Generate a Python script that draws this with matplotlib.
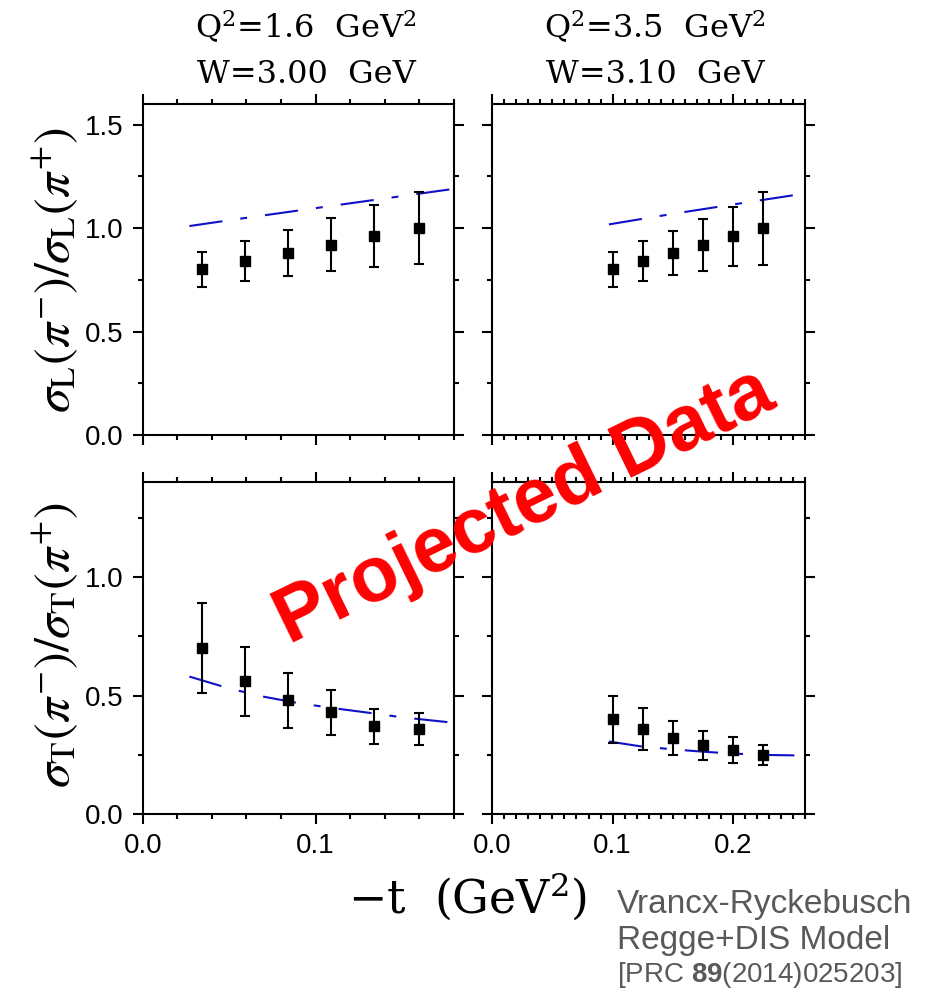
import matplotlib
matplotlib.use("Agg")
import matplotlib.pyplot as plt
from matplotlib.ticker import MultipleLocator

plt.rcParams['font.family'] = ['Liberation Sans', 'DejaVu Sans']
plt.rcParams['lines.scale_dashes'] = False
plt.rcParams['mathtext.fontset'] = 'custom'
plt.rcParams['mathtext.rm'] = 'Liberation Sans'
plt.rcParams['mathtext.bf'] = 'Liberation Sans:bold'

# kinematic settings (two header lines per column)
titles_q2 = [r'Q$^2$=1.6  GeV$^2$', r'Q$^2$=3.5  GeV$^2$']
titles_w = ['W=3.00  GeV', 'W=3.10  GeV']

# projected data points (-t in GeV^2)
t_left = [0.034, 0.059, 0.084, 0.109, 0.134, 0.160]
t_right = [0.100, 0.125, 0.150, 0.175, 0.200, 0.225]

rL_left = [0.80, 0.84, 0.88, 0.92, 0.96, 1.00]
rL_left_err = [0.087, 0.096, 0.110, 0.127, 0.150, 0.175]
rL_right = [0.80, 0.84, 0.88, 0.92, 0.96, 1.00]
rL_right_err = [0.087, 0.096, 0.108, 0.125, 0.142, 0.177]

rT_left = [0.70, 0.56, 0.48, 0.43, 0.37, 0.36]
rT_left_err = [0.190, 0.145, 0.115, 0.095, 0.074, 0.068]
rT_right = [0.40, 0.36, 0.32, 0.29, 0.27, 0.25]
rT_right_err = [0.100, 0.088, 0.072, 0.062, 0.054, 0.043]

# Regge+DIS model curves
mL_left_t = [0.027, 0.06, 0.09, 0.12, 0.15, 0.18]
mL_left_y = [1.010, 1.050, 1.085, 1.120, 1.155, 1.190]
mL_right_t = [0.097, 0.13, 0.16, 0.19, 0.22, 0.255]
mL_right_y = [1.018, 1.050, 1.078, 1.105, 1.132, 1.163]
mT_left_t = [0.027, 0.05, 0.07, 0.09, 0.11, 0.13, 0.15, 0.18]
mT_left_y = [0.580, 0.530, 0.495, 0.468, 0.447, 0.428, 0.408, 0.385]
mT_right_t = [0.097, 0.124, 0.15, 0.175, 0.20, 0.23, 0.257]
mT_right_y = [0.306, 0.285, 0.273, 0.263, 0.255, 0.249, 0.247]

fig = plt.figure(figsize=(9.3, 9.94), dpi=100)

W, H = 930.0, 994.0
def box(x0, x1, ytop, ybot):
    return [x0 / W, 1 - ybot / H, (x1 - x0) / W, (ybot - ytop) / H]

ax_tl = fig.add_axes(box(142.7, 454.0, 104.0, 435.0))
ax_tr = fig.add_axes(box(492.3, 805.0, 104.0, 435.0))
ax_bl = fig.add_axes(box(142.7, 454.0, 482.3, 814.0))
ax_br = fig.add_axes(box(492.3, 805.0, 482.3, 814.0))

dash = (0, [24, 13, 5, 13])
blue = '#1010c8'

panels = [
    (ax_tl, t_left, rL_left, rL_left_err, mL_left_t, mL_left_y, 0.18, 1.6),
    (ax_tr, t_right, rL_right, rL_right_err, mL_right_t, mL_right_y, 0.26, 1.6),
    (ax_bl, t_left, rT_left, rT_left_err, mT_left_t, mT_left_y, 0.18, 1.4),
    (ax_br, t_right, rT_right, rT_right_err, mT_right_t, mT_right_y, 0.26, 1.4),
]

for ax, t, r, e, mt, my, xmax, ymax in panels:
    ax.plot(mt, my, color=blue, lw=1.5, linestyle=dash, zorder=2)
    ax.errorbar(t, r, yerr=e, fmt='s', color='black', ms=6.5,
                elinewidth=1.5, capsize=3.5, capthick=1.5, zorder=3)
    ax.set_xlim(0, xmax)
    ax.set_ylim(0, ymax)
    ax.yaxis.set_major_locator(MultipleLocator(0.5))
    ax.yaxis.set_minor_locator(MultipleLocator(0.25))
    ax.xaxis.set_major_locator(MultipleLocator(0.1))
    ax.xaxis.set_minor_locator(MultipleLocator(0.02 if xmax < 0.2 else 0.01))
    ax.tick_params(which='both', direction='out', top=True, right=True,
                   width=1.5, labelsize=20, pad=7)
    ax.tick_params(which='major', length=7)
    ax.tick_params(which='minor', length=3.8)
    for s in ax.spines.values():
        s.set_linewidth(1.5)
    ax.xaxis.set_major_formatter(plt.FormatStrFormatter('%.1f'))
    ax.yaxis.set_major_formatter(plt.FormatStrFormatter('%.1f'))

for ax in (ax_tl, ax_tr):
    ax.tick_params(labelbottom=False)
for ax in (ax_tr, ax_br):
    ax.tick_params(labelleft=False)

# column headings
for xc, q2, w in zip((306, 655), titles_q2, titles_w):
    fig.text(xc / W, 1 - 38 / H, q2, family='DejaVu Serif', fontsize=23,
             ha='center', va='baseline', math_fontfamily='dejavuserif')
    fig.text(xc / W, 1 - 83 / H, w, family='DejaVu Serif', fontsize=23,
             ha='center', va='baseline')

# axis labels
fig.text(55 / W, 1 - 270 / H, r'$\sigma_{\rm L}(\pi^{-})/\sigma_{\rm L}(\pi^{+})$',
         rotation=90, ha='center', va='center', fontsize=36, math_fontfamily='stix')
fig.text(55 / W, 1 - 645 / H, r'$\sigma_{\rm T}(\pi^{-})/\sigma_{\rm T}(\pi^{+})$',
         rotation=90, ha='center', va='center', fontsize=36, math_fontfamily='stix')
fig.text(468 / W, 1 - 897 / H, r'$-$t  (GeV$^2$)', family='DejaVu Serif',
         ha='center', va='center', fontsize=33, math_fontfamily='dejavuserif')

# model reference
gray = '#595959'
fig.text(617 / W, 1 - 905 / H, 'Vrancx-Ryckebusch', color=gray, fontsize=24,
         ha='left', va='center')
fig.text(617 / W, 1 - 941 / H, 'Regge+DIS Model', color=gray, fontsize=24,
         ha='left', va='center')
fig.text(617 / W, 1 - 975 / H, r'[PRC $\mathbf{89}$(2014)025203]', color=gray,
         fontsize=20, ha='left', va='center', math_fontfamily='custom')

# watermark
fig.text(525 / W, 1 - 507 / H, 'Projected Data', color='#ff0000', fontsize=56,
         fontweight='bold', rotation=26, ha='center', va='center',
         rotation_mode='anchor', zorder=10)

fig.savefig('out.png', dpi=100)
